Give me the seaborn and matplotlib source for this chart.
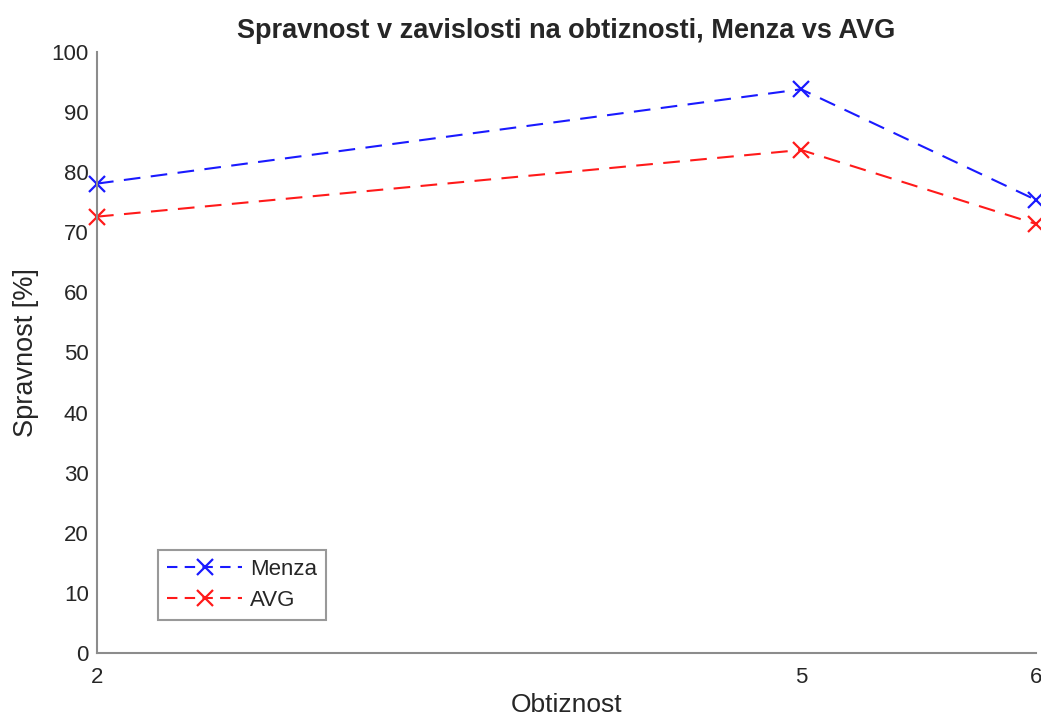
import matplotlib
matplotlib.use("Agg")
import matplotlib.pyplot as plt
import seaborn as sns
import pandas as pd
from matplotlib.lines import Line2D

obtiznost = [2, 5, 6]
menza = [78.1, 93.8, 75.4]
avg = [72.6, 83.7, 71.4]
series_names = ["Menza", "AVG"]
yticks = list(range(0, 101, 10))
xticks = [2, 5, 6]

df = pd.DataFrame({
    "Obtiznost": obtiznost * 2,
    "Spravnost": menza + avg,
    "Serie": [series_names[0]] * 3 + [series_names[1]] * 3,
})

sns.set_style("white")
plt.rcParams['font.family'] = ['Liberation Sans', 'DejaVu Sans']

fig = plt.figure(figsize=(10.41, 7.22), dpi=100)
ax = fig.add_axes([0.0932, 0.0956, 0.9018, 0.8324])

palette = {"Menza": "#1a1aff", "AVG": "#ff1a1a"}
sns.lineplot(data=df, x="Obtiznost", y="Spravnost", hue="Serie", palette=palette,
             linewidth=1.5, marker="x", markersize=11, markeredgewidth=1.6,
             ax=ax, legend=False)
for line in ax.lines:
    line.set_linestyle((0, (8, 5)))
    line.set_markeredgecolor(line.get_color())
    line.set_clip_on(False)

ax.set_xlim(2, 6)
ax.set_ylim(0, 100)
ax.set_xticks(xticks)
ax.set_yticks(yticks)
ax.tick_params(direction="in", length=6, width=1, colors="#808080",
               labelcolor="#262626", labelsize=16)
ax.tick_params(axis="x", pad=10)
ax.tick_params(axis="y", pad=6)
for s in ["top", "right"]:
    ax.spines[s].set_visible(False)
for s in ["left", "bottom"]:
    ax.spines[s].set_color("#8c8c8c")
    ax.spines[s].set_linewidth(1.5)

ax.set_xlabel("Obtiznost", fontsize=19, color="#262626", labelpad=4)
ax.set_ylabel("Spravnost [%]", fontsize=19.5, color="#262626", labelpad=9)
ax.set_title("Spravnost v zavislosti na obtiznosti, Menza vs AVG",
             fontsize=19.5, fontweight="bold", pad=10)

handles = [Line2D([], [], color=palette[n], linestyle=(0, (5, 3.5)), linewidth=1.5,
                  marker="x", markersize=11, markeredgewidth=1.6) for n in series_names]
leg = ax.legend(handles, series_names, loc="lower left",
                bbox_to_anchor=(0.065, 0.055), borderaxespad=0, fontsize=16,
                frameon=True, fancybox=False, edgecolor="#808080",
                handlelength=3.4, handletextpad=0.35, borderpad=0.4,
                labelspacing=0.45)
leg.get_frame().set_linewidth(1.5)

fig.savefig("out.png", dpi=100)
